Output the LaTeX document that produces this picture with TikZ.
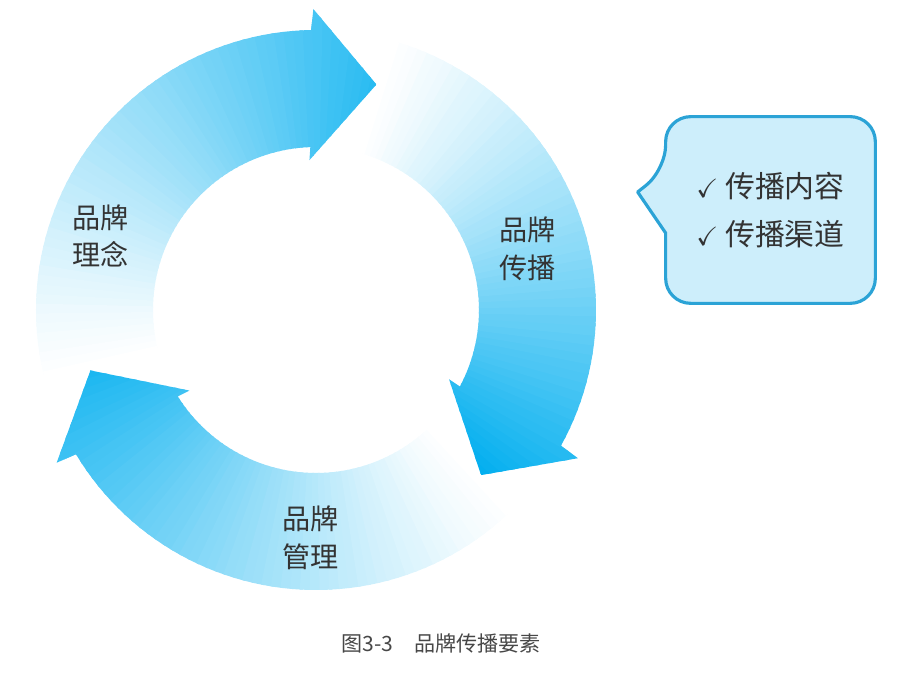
\documentclass[tikz,border=0pt]{standalone}
\usepackage{fontspec}
\usepackage{amssymb}
\usepackage{xcolor}
\usetikzlibrary{calc, backgrounds}
\newfontfamily\cjk{Noto Sans CJK SC}
\definecolor{RingCyan}{HTML}{00AEEF}
\definecolor{BubbleFill}{HTML}{CDEEFB}
\definecolor{BubbleEdge}{HTML}{2BA3D6}
\definecolor{LabelGray}{HTML}{333333}
\tikzset{
    % Labels sitting on the ring
    ring label/.style={
        align=center,
        text=LabelGray,
        font=\cjk\fontsize{16}{21.5}\selectfont
    },
    % Speech bubble on the right
    bubble/.style={
        rectangle,
        minimum width=4.18cm,
        minimum height=3.72cm,
        align=left,
        text=LabelGray,
        font=\cjk\fontsize{17}{27}\selectfont
    },
    bubble edge/.style={
        draw=BubbleEdge,
        fill=BubbleFill,
        line width=1.8pt,
        line join=round
    },
    fig caption/.style={
        text=LabelGray!90,
        font=\cjk\fontsize{12}{14}\selectfont
    }
}
% one arrow of the ring, tail at 195 deg, head pointing clockwise
\newcommand{\ringarrowpath}{(195:5.6) arc[start angle=195, end angle=91, radius=5.6]
    -- (90.5:6.02) -- (75:4.67) -- (92.5:3.0) -- (92:3.26)
    arc[start angle=92, end angle=195, radius=3.26] -- cycle}
\newcommand{\tick}{{\fontsize{15}{15}\selectfont$\checkmark$}\hspace{4pt}}

\begin{document}
\begin{tikzpicture}
    \useasboundingbox (-6.32,-7.26) rectangle (11.68,6.2);

    % Ring of three arrows, white tail to cyan head
    \foreach \k/\pmax in {0/85, 1/100, 2/90} {
        \begin{scope}[rotate=-120*\k]
            \clip \ringarrowpath;
            \foreach \a in {74,76,...,196} {
                \pgfmathtruncatemacro{\p}{min(100, \pmax*(max(0.001,195-\a)/120)^1.15)}
                \fill[RingCyan!\p!white] (0,0) -- (\a-1.3:6.4)
                    arc[start angle=\a-1.3, end angle=\a+1.3, radius=6.4] -- cycle;
            }
        \end{scope}
    }

    % Labels
    \node[ring label] (idea) at (-4.30, 1.48) {品牌\\理念};
    \node[ring label] (spread) at (4.24, 1.22) {品牌\\传播};
    \node[ring label] (manage) at (-0.10, -4.56) {品牌\\管理};

    % Bubble
    \node[bubble] (bubble) at (9.09, 2.0) {\tick 传播内容\\\tick 传播渠道};
    \coordinate (ptr) at ($(bubble.west)+(-0.56,0.36)$);
    \begin{scope}[on background layer]
        \path[bubble edge] ($(bubble.west)+(0,-0.46)$) [rounded corners=0.5cm]
            -- (bubble.south west) -- (bubble.south east)
            -- (bubble.north east) -- (bubble.north west)
            -- ($(bubble.west)+(0,0.8)$) [sharp corners] -- (ptr) -- cycle;
    \end{scope}

    % Caption
    \node[fig caption] (caption) at (2.5, -6.66) {图3-3\hspace{1em}品牌传播要素};
\end{tikzpicture}
\end{document}
